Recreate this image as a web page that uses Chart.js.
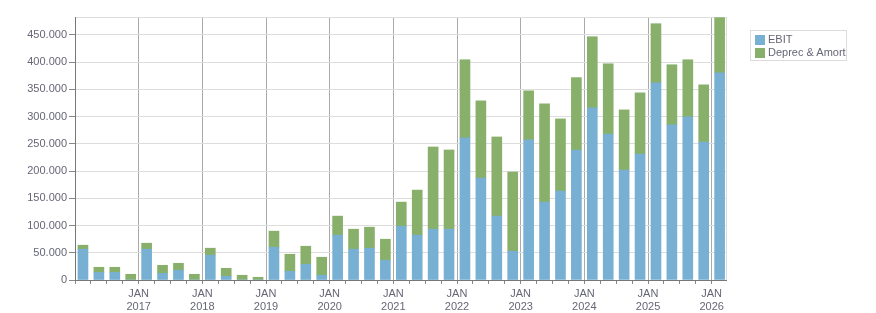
<!DOCTYPE html>
<html>
<head>
<meta charset="utf-8">
<script src="https://cdn.jsdelivr.net/npm/chart.js@4/dist/chart.umd.min.js"></script>
<style>
  body { margin: 0; background: #fff; }
  #wrap { position: relative; width: 876px; height: 313px; }
  #legend {
    position: absolute; left: 750px; top: 30px; width: 95px; height: 27px;
    border: 1px solid #dcdcdc; font: 11px "Liberation Sans", Arial, sans-serif; color: #666677;
    padding-top: 2px;
  }
  #legend div { height: 13px; line-height: 13px; position: relative; padding-left: 17px; }
  #legend span { position: absolute; left: 4px; top: 2px; width: 10px; height: 10px; }
</style>
</head>
<body>
<div id="wrap">
  <canvas id="chart" width="876" height="313"></canvas>
  <div id="legend"></div>
</div>
<script>
const categories = [
  "2016 Q1", "2016 Q2", "2016 Q3", "2016 Q4",
  "2017 Q1", "2017 Q2", "2017 Q3", "2017 Q4",
  "2018 Q1", "2018 Q2", "2018 Q3", "2018 Q4",
  "2019 Q1", "2019 Q2", "2019 Q3", "2019 Q4",
  "2020 Q1", "2020 Q2", "2020 Q3", "2020 Q4",
  "2021 Q1", "2021 Q2", "2021 Q3", "2021 Q4",
  "2022 Q1", "2022 Q2", "2022 Q3", "2022 Q4",
  "2023 Q1", "2023 Q2", "2023 Q3", "2023 Q4",
  "2024 Q1", "2024 Q2", "2024 Q3", "2024 Q4",
  "2025 Q1", "2025 Q2", "2025 Q3", "2025 Q4",
  "2026 Q1"
];
const ebit = [
  56500, 14000, 14000, 0,
  56500, 12300, 17900, 0,
  45500, 6800, 0, 0,
  60200, 16000, 28900, 8700,
  82300, 56500, 58400, 36300,
  98900, 82300, 93300, 93300,
  260900, 187200, 117300, 52800,
  257200, 143000, 163300, 238800,
  316100, 268200, 202000, 231400,
  362100, 284800, 299500, 253500,
  380500
];
const deprecAmort = [
  7400, 9400, 9400, 10500,
  11100, 14700, 12800, 10500,
  12900, 14700, 8700, 5000,
  29500, 31300, 33100, 33100,
  35000, 36800, 38600, 38600,
  44100, 82800, 151000, 145500,
  143600, 141800, 145400, 145500,
  90200, 180500, 132600, 132900,
  130700, 128900, 110400, 112300,
  108600, 110500, 105000, 104900,
  101300
];
const yTicks = [0, 50000, 100000, 150000, 200000, 250000, 300000, 350000, 400000, 450000];
const firstYear = 2016;

const blue = "#77b0d3";
const green = "#88b06a";
const labelColor = "#666677";
const xEnd = categories.length - 0.1;
const yEnd = 483000;

function toPoints(values) {
  return values.map(function (v, i) { return { x: i + 0.5, y: v }; });
}

function fmt(v) {
  return String(Math.round(v)).replace(/\B(?=(\d{3})+(?!\d))/g, ".");
}

const datasets = [
  { label: "EBIT", data: toPoints(ebit), backgroundColor: blue },
  { label: "Deprec & Amort", data: toPoints(deprecAmort), backgroundColor: green }
];

const legend = document.getElementById("legend");
datasets.forEach(function (ds) {
  const row = document.createElement("div");
  const sw = document.createElement("span");
  sw.style.background = ds.backgroundColor;
  row.appendChild(sw);
  row.appendChild(document.createTextNode(ds.label));
  legend.appendChild(row);
});

const font = { family: "'Liberation Sans', Arial, sans-serif", size: 11 };

new Chart(document.getElementById("chart").getContext("2d"), {
  type: "bar",
  data: { datasets: datasets },
  options: {
    responsive: false,
    animation: false,
    layout: { padding: { top: 17, right: 150, left: 0, bottom: 0 } },
    datasets: { bar: { barThickness: 10 } },
    plugins: { legend: { display: false }, tooltip: { enabled: false } },
    scales: {
      x: {
        type: "linear",
        stacked: true,
        offset: false,
        min: 0,
        max: xEnd,
        afterBuildTicks: function (s) {
          // one tick per quarter boundary, plus the right edge of the plot
          s.ticks = categories.map(function (c, i) { return { value: i }; }).concat([{ value: xEnd }]);
        },
        grid: {
          offset: false,
          drawTicks: true,
          tickLength: 4,
          color: function (c) {
            const v = c.tick.value;
            if (!Number.isInteger(v)) return "#dcdcdc";
            return v % 4 === 0 && v > 0 ? "#aaaaaa" : "rgba(0,0,0,0)";
          },
          tickColor: function (c) {
            return Number.isInteger(c.tick.value) ? "#888888" : "rgba(0,0,0,0)";
          }
        },
        border: { color: "#777777" },
        ticks: {
          autoSkip: false,
          maxRotation: 0,
          padding: 3,
          color: labelColor,
          font: font,
          callback: function (v) {
            if (Number.isInteger(v) && v % 4 === 0 && v > 0) {
              return ["JAN", String(firstYear + v / 4)];
            }
            return "";
          }
        },
        afterFit: function (s) { s.height = 33; }
      },
      y: {
        stacked: true,
        min: 0,
        max: yEnd,
        afterBuildTicks: function (s) {
          s.ticks = yTicks.map(function (v) { return { value: v }; }).concat([{ value: yEnd }]);
        },
        grid: { color: "#dddddd", tickLength: 6, tickColor: function (c) {
          return c.tick.value === yEnd ? "rgba(0,0,0,0)" : "#888888";
        } },
        border: { color: "#777777" },
        ticks: {
          padding: 2,
          color: labelColor,
          font: font,
          callback: function (v) { return yTicks.indexOf(v) >= 0 ? fmt(v) : ""; }
        },
        afterFit: function (s) { s.width = 75; }
      }
    }
  }
});
</script>
</body>
</html>
